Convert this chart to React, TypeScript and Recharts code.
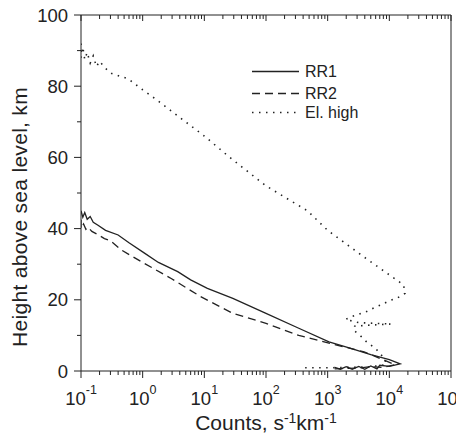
import { LineChart, Line, XAxis, YAxis } from "recharts";

// counts (s^-1 km^-1) and heights (km)
const rr1Counts = [0.1, 0.107, 0.115, 0.126, 0.141, 0.158, 0.186, 0.25, 0.4, 0.6, 1.07, 1.8, 3.7, 6, 11.2, 29, 100, 340, 1050, 2300, 5000, 10000, 15000, 10000, 7000, 6300, 5000, 4000, 3200, 2500, 2000, 1600, 1300];
const rr1Heights = [45, 43.2, 44.5, 42.6, 43.4, 41.8, 41, 39.5, 38.2, 36, 33.1, 30.5, 27.9, 25.6, 23.2, 20.4, 16.2, 12.0, 8.2, 6.4, 4.6, 3.2, 2.0, 1.3, 1.6, 0.6, 1.4, 0.5, 1.3, 0.5, 1.2, 0.5, 1.0];

const rr2Counts = [0.1, 0.1, 0.11, 0.12, 0.13, 0.15, 0.18, 0.24, 0.3, 0.45, 1.07, 2.9, 8.7, 29, 100, 340, 1050, 3900, 11500, 12500, 8000, 5000, 3000, 1300];
const rr2Heights = [42.5, 40, 41.3, 39.8, 40.4, 39.2, 38.5, 37.2, 36.6, 34, 30.2, 26, 20.9, 16.2, 13.4, 10.0, 7.8, 5.4, 2.0, 1.8, 1.0, 1.2, 0.8, 0.6];

const elCounts = [0.1, 0.1, 0.107, 0.115, 0.126, 0.141, 0.158, 0.178, 0.2, 0.25, 0.32, 0.58, 1, 1.74, 3.2, 10, 25, 100, 470, 1000, 3900, 10000, 17000, 18000, 13200, 10200, 7600, 5750, 4270, 3160, 2450, 1950, 3160, 5600, 10700, 5000, 2750, 2630, 3390, 4270, 5890, 7080, 8500, 8900, 5000, 2000, 1000, 400];
const elHeights = [92, 88, 91, 87.5, 89.5, 86.5, 88.5, 85.5, 87, 85, 83.5, 82.1, 79, 76, 72.5, 66, 60.2, 52, 45, 39.5, 32, 27, 24.2, 21.8, 20.4, 19.8, 18.7, 17.8, 16.7, 15.9, 15.3, 14.5, 13.6, 13.4, 13.2, 12.9, 12.6, 11.5, 9.9, 8.2, 6.4, 5.0, 3.1, 1.8, 1.2, 1.0, 0.9, 0.9];

const decades = [-1, 0, 1, 2, 3, 4, 5];
const yTicks = [0, 10, 20, 30, 40, 50, 60, 70, 80, 90, 100];

const xTicks: number[] = [];
decades.forEach((d) => {
  const top = d === 5 ? 1 : 9;
  for (let m = 1; m <= top; m++) xTicks.push(Number((m * Math.pow(10, d)).toPrecision(3)));
});

const toRows = (cs: number[], hs: number[]) => cs.map((c, i) => ({ c, h: hs[i] }));
const rr1 = toRows(rr1Counts, rr1Heights);
const rr2 = toRows(rr2Counts, rr2Heights);
const elHigh = toRows(elCounts, elHeights);

const INK = "#222";
const FONT = "'Liberation Sans', Arial, sans-serif";

const isDecade = (v: number) => Math.abs(Math.log10(v) - Math.round(Math.log10(v))) < 1e-6;

const BottomTick = (props: any) => {
  const { x, y, payload } = props;
  const v = payload.value;
  const major = isDecade(v);
  const exp = Math.round(Math.log10(v));
  return (
    <g>
      <line x1={x} x2={x} y1={y} y2={y + (major ? 7 : 4)} stroke={INK} />
      {major && (
        <text x={x} y={y + 34} textAnchor="middle" fontSize={18.5} fontFamily={FONT} fill={INK}>
          10
          <tspan fontSize={12.5} dy={-11}>{exp < 0 ? "-1" : String(exp)}</tspan>
        </text>
      )}
    </g>
  );
};

const TopTick = (props: any) => {
  const { x, y, payload } = props;
  const major = isDecade(payload.value);
  return <line x1={x} x2={x} y1={y} y2={y + (major ? 6 : 4)} stroke={INK} />;
};

const LeftTick = (props: any) => {
  const { x, y, payload } = props;
  const v = payload.value;
  const major = v % 20 === 0;
  return (
    <g>
      <line x1={x - (major ? 7 : 4)} x2={x} y1={y} y2={y} stroke={INK} />
      {major && (
        <text x={x - 13} y={y + 6.5} textAnchor="end" fontSize={18.5} fontFamily={FONT} fill={INK}>
          {v}
        </text>
      )}
    </g>
  );
};

const RightTick = (props: any) => {
  const { x, y } = props;
  return <line x1={x - 4} x2={x} y1={y} y2={y} stroke={INK} />;
};

export default function App() {
  return (
    <div style={{ position: "relative", width: 464, height: 433, marginLeft: -8, marginTop: -8 }}>
      <LineChart width={464} height={433} margin={{ top: 14, right: 12, bottom: 0, left: 0 }}>
        <XAxis
          dataKey="c"
          type="number"
          scale="log"
          domain={[0.1, 100000]}
          allowDataOverflow
          ticks={xTicks}
          interval={0}
          height={62}
          tickSize={0}
          tickMargin={0}
          tickLine={false}
          axisLine={{ stroke: INK }}
          tick={(p: any) => <BottomTick {...p} />}
        />
        <XAxis
          xAxisId="top"
          orientation="top"
          dataKey="c"
          type="number"
          scale="log"
          domain={[0.1, 100000]}
          allowDataOverflow
          ticks={xTicks}
          interval={0}
          height={1}
          tickSize={0}
          tickMargin={0}
          tickLine={false}
          axisLine={{ stroke: INK }}
          tick={(p: any) => <TopTick {...p} />}
        />
        <YAxis
          type="number"
          domain={[0, 100]}
          allowDataOverflow
          ticks={yTicks}
          interval={0}
          width={81}
          tickSize={0}
          tickMargin={0}
          tickLine={false}
          axisLine={{ stroke: INK }}
          tick={(p: any) => <LeftTick {...p} />}
        />
        <YAxis
          yAxisId="right"
          orientation="right"
          type="number"
          domain={[0, 100]}
          ticks={yTicks}
          interval={0}
          width={1}
          tickSize={0}
          tickMargin={0}
          tickLine={false}
          axisLine={{ stroke: INK }}
          tick={(p: any) => <RightTick {...p} />}
        />
        <Line data={rr1} dataKey="h" stroke={INK} strokeWidth={1.3} dot={false} isAnimationActive={false} />
        <Line data={rr2} dataKey="h" stroke={INK} strokeWidth={1.3} strokeDasharray="8 5" dot={false} isAnimationActive={false} />
        <Line data={elHigh} dataKey="h" stroke={INK} strokeWidth={1.6} strokeDasharray="1.5 5.5" dot={false} isAnimationActive={false} />
      </LineChart>

      <svg width={464} height={433} style={{ position: "absolute", left: 0, top: 0, pointerEvents: "none" }}>
        <text
          x={27}
          y={217}
          transform="rotate(-90, 27, 217)"
          textAnchor="middle"
          fontSize={21}
          letterSpacing={0.3}
          fontFamily={FONT}
          fill={INK}
        >
          Height above sea level, km
        </text>
        <text x={266} y={430} textAnchor="middle" fontSize={21} fontFamily={FONT} fill={INK}>
          Counts, s
          <tspan fontSize={14} dy={-7}>-1</tspan>
          <tspan dy={7}>km</tspan>
          <tspan fontSize={14} dy={-7}>-1</tspan>
        </text>

        <g fontFamily={FONT} fontSize={16} fill={INK}>
          <line x1={252} x2={299} y1={71.5} y2={71.5} stroke={INK} strokeWidth={1.3} />
          <text x={305} y={77}>RR1</text>
          <line x1={252} x2={299} y1={93.5} y2={93.5} stroke={INK} strokeWidth={1.3} strokeDasharray="8 5" />
          <text x={305} y={99}>RR2</text>
          <line x1={252} x2={299} y1={112.5} y2={112.5} stroke={INK} strokeWidth={1.6} strokeDasharray="1.5 5.5" />
          <text x={305} y={118}>El. high</text>
        </g>
      </svg>
    </div>
  );
}
